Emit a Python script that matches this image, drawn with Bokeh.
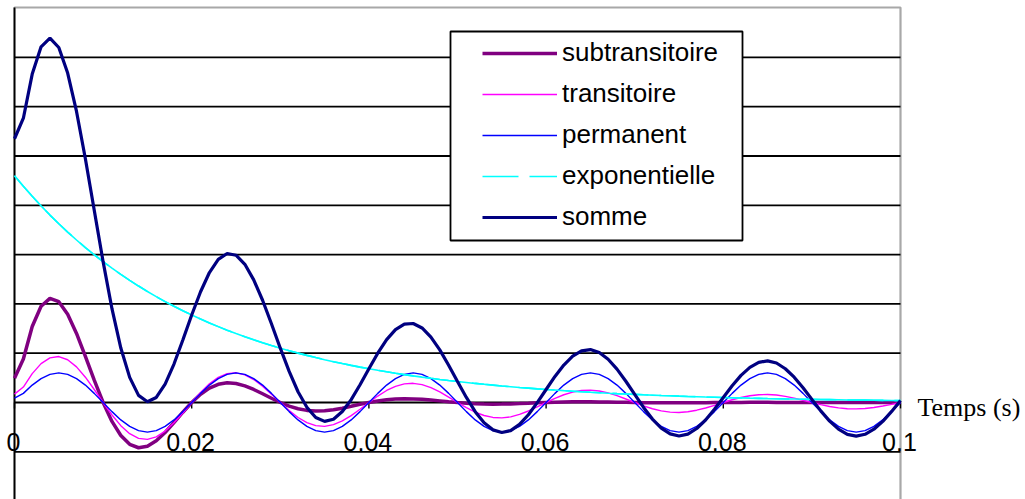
from bokeh.plotting import figure
from bokeh.models import (Range1d, Legend, LegendItem, LabelSet, Label,
                          ColumnDataSource, BoxAnnotation)
from bokeh.core.properties import value
from bokeh.embed import file_html
from bokeh.resources import INLINE

# ---------------- data ----------------
t_ms = list(range(101))
t = [k / 1000 for k in t_ms]   # time axis, 1 ms sampling

sub = [0.49, 0.881, 1.542, 1.953, 2.113, 2.044, 1.788, 1.400, 0.936, 0.453,
       0.0, -0.383, -0.670, -0.849, -0.918, -0.888, -0.777, -0.608, -0.407, -0.197,
       0.0, 0.167, 0.291, 0.369, 0.399, 0.386, 0.338, 0.264, 0.177, 0.086,
       0.0, -0.072, -0.127, -0.160, -0.173, -0.168, -0.147, -0.115, -0.077, -0.037,
       0.0, 0.031, 0.055, 0.070, 0.075, 0.073, 0.064, 0.050, 0.033, 0.016,
       0.0, -0.014, -0.024, -0.030, -0.033, -0.032, -0.028, -0.022, -0.015, -0.007,
       0.0, 0.006, 0.010, 0.013, 0.014, 0.014, 0.012, 0.009, 0.006, 0.003,
       0.0, -0.003, -0.005, -0.006, -0.006, -0.006, -0.005, -0.004, -0.003, -0.001,
       0.0, 0.001, 0.002, 0.003, 0.003, 0.003, 0.002, 0.002, 0.001, 0.001,
       0.0, -0.001, -0.001, -0.001, -0.001, -0.001, -0.001, -0.001, -0.001, 0.0,
       0.0]

trans = [0.17, 0.314, 0.585, 0.788, 0.906, 0.932, 0.867, 0.722, 0.513, 0.264,
         0.0, -0.253, -0.470, -0.633, -0.728, -0.749, -0.697, -0.580, -0.412, -0.212,
         0.0, 0.203, 0.378, 0.509, 0.585, 0.602, 0.560, 0.466, 0.331, 0.170,
         0.0, -0.163, -0.304, -0.409, -0.470, -0.484, -0.450, -0.374, -0.266, -0.137,
         0.0, 0.131, 0.244, 0.328, 0.378, 0.389, 0.362, 0.301, 0.214, 0.110,
         0.0, -0.105, -0.196, -0.264, -0.303, -0.312, -0.291, -0.242, -0.172, -0.088,
         0.0, 0.085, 0.157, 0.212, 0.244, 0.251, 0.233, 0.194, 0.138, 0.071,
         0.0, -0.068, -0.127, -0.170, -0.196, -0.202, -0.188, -0.156, -0.111, -0.057,
         0.0, 0.055, 0.102, 0.137, 0.157, 0.162, 0.151, 0.125, 0.089, 0.046,
         0.0, -0.044, -0.082, -0.110, -0.127, -0.130, -0.121, -0.101, -0.072, -0.037,
         0.0]

perm = [0.09, 0.185, 0.353, 0.485, 0.571, 0.600, 0.571, 0.485, 0.353, 0.185,
        0.0, -0.185, -0.353, -0.485, -0.571, -0.600, -0.571, -0.485, -0.353, -0.185,
        0.0, 0.185, 0.353, 0.485, 0.571, 0.600, 0.571, 0.485, 0.353, 0.185,
        0.0, -0.185, -0.353, -0.485, -0.571, -0.600, -0.571, -0.485, -0.353, -0.185,
        0.0, 0.185, 0.353, 0.485, 0.571, 0.600, 0.571, 0.485, 0.353, 0.185,
        0.0, -0.185, -0.353, -0.485, -0.571, -0.600, -0.571, -0.485, -0.353, -0.185,
        0.0, 0.185, 0.353, 0.485, 0.571, 0.600, 0.571, 0.485, 0.353, 0.185,
        0.0, -0.185, -0.353, -0.485, -0.571, -0.600, -0.571, -0.485, -0.353, -0.185,
        0.0, 0.185, 0.353, 0.485, 0.571, 0.600, 0.571, 0.485, 0.353, 0.185,
        0.0, -0.185, -0.353, -0.485, -0.571, -0.600, -0.571, -0.485, -0.353, -0.185,
        0.0]

expo = [4.600, 4.386, 4.182, 3.988, 3.802, 3.625, 3.457, 3.296, 3.143, 2.997,
        2.857, 2.724, 2.598, 2.477, 2.362, 2.252, 2.147, 2.047, 1.952, 1.861,
        1.775, 1.692, 1.614, 1.539, 1.467, 1.399, 1.334, 1.272, 1.213, 1.156,
        1.102, 1.051, 1.002, 0.956, 0.911, 0.869, 0.828, 0.790, 0.753, 0.718,
        0.685, 0.653, 0.623, 0.594, 0.566, 0.540, 0.515, 0.491, 0.468, 0.446,
        0.425, 0.406, 0.387, 0.369, 0.352, 0.335, 0.320, 0.305, 0.291, 0.277,
        0.264, 0.252, 0.240, 0.229, 0.218, 0.208, 0.199, 0.189, 0.180, 0.172,
        0.164, 0.156, 0.149, 0.142, 0.136, 0.129, 0.123, 0.118, 0.112, 0.107,
        0.102, 0.097, 0.093, 0.088, 0.084, 0.080, 0.077, 0.073, 0.070, 0.066,
        0.063, 0.060, 0.058, 0.055, 0.052, 0.050, 0.048, 0.045, 0.043, 0.041,
        0.039]

somme = [5.350, 5.766, 6.662, 7.214, 7.392, 7.201, 6.683, 5.903, 4.945, 3.899,
         2.857, 1.903, 1.105, 0.510, 0.145, 0.015, 0.102, 0.374, 0.780, 1.267,
         1.775, 2.247, 2.636, 2.902, 3.022, 2.987, 2.803, 2.487, 2.074, 1.597,
         1.102, 0.631, 0.218, -0.098, -0.303, -0.383, -0.340, -0.184, 0.057, 0.359,
         0.685, 1.000, 1.275, 1.477, 1.590, 1.602, 1.512, 1.327, 1.068, 0.757,
         0.425, 0.102, -0.186, -0.410, -0.555, -0.609, -0.570, -0.444, -0.249, -0.003,
         0.264, 0.528, 0.760, 0.939, 1.047, 1.073, 1.015, 0.877, 0.677, 0.431,
         0.164, -0.100, -0.336, -0.519, -0.637, -0.679, -0.641, -0.527, -0.355, -0.136,
         0.102, 0.338, 0.550, 0.713, 0.815, 0.845, 0.801, 0.685, 0.513, 0.298,
         0.063, -0.170, -0.378, -0.541, -0.647, -0.681, -0.645, -0.542, -0.383, -0.181,
         0.039]

tick_values = [0, 0.02, 0.04, 0.06, 0.08, 0.1]
tick_labels = ["0", "0.02", "0.04", "0.06", "0.08", "0.1"]
grid_levels = [-1, 0, 1, 2, 3, 4, 5, 6, 7]
series_names = ["subtransitoire", "transitoire", "permanent", "exponentielle", "somme"]
axis_title = "Temps (s)"

# ---------------- layout constants ----------------
W, H = 1025, 499
PX_PER_S = 8860.0       # horizontal scale
PX_PER_UNIT = 49.3      # vertical scale
X0_PX, Y0_PX = 14, 402  # screen position of the origin
x_lo, x_hi = -X0_PX / PX_PER_S, (W - X0_PX) / PX_PER_S
y_lo, y_hi = -(H - Y0_PX) / PX_PER_UNIT, Y0_PX / PX_PER_UNIT
y_top = (Y0_PX - 7) / PX_PER_UNIT   # top border of the plot area

p = figure(width=W, height=H,
           x_range=Range1d(x_lo, x_hi), y_range=Range1d(y_lo, y_hi),
           x_axis_type=None, y_axis_type=None, title=None,
           toolbar_location=None, output_backend="svg",
           min_border_left=0, min_border_right=0,
           min_border_top=0, min_border_bottom=0)
p.outline_line_color = None
p.background_fill_color = "white"
p.border_fill_color = "white"

x_first, x_last = tick_values[0], tick_values[-1]

# horizontal grid lines limited to the plot area
p.segment(x0=[x_first] * len(grid_levels), y0=grid_levels,
          x1=[x_last] * len(grid_levels), y1=grid_levels,
          line_color="black", line_width=1.8)

# plot-area border (grey, top and right)
p.add_layout(BoxAnnotation(left=x_first, right=x_last, top=y_top, bottom=y_lo - 0.1,
                           fill_alpha=0, line_color="#a8a8a8", line_alpha=1.0,
                           line_width=2.2, level="underlay"))

# vertical axis line
p.segment(x0=[x_first], y0=[y_lo - 0.1], x1=[x_first], y1=[y_top],
          line_color="black", line_width=1.8)

# tick marks on the zero line
tick_len = 0.12
p.segment(x0=tick_values, y0=[0] * len(tick_values),
          x1=tick_values, y1=[-tick_len] * len(tick_values),
          line_color="black", line_width=1.4)

r_sub = p.line(t, sub, line_color="#800080", line_width=3.5)
r_tr = p.line(t, trans, line_color="#ff00ff", line_width=1.4)
r_pe = p.line(t, perm, line_color="#0000ff", line_width=1.4)
r_ex_leg = p.line(t, expo, line_color="#00ffff", line_width=1.6, line_dash="36 11")
r_ex = p.line(t, expo, line_color="#00ffff", line_width=1.6)
r_so = p.line(t, somme, line_color="#000080", line_width=3.2)

# tick labels on the zero line
tick_src = ColumnDataSource(dict(x=tick_values, y=[0] * len(tick_values), text=tick_labels))
p.add_layout(LabelSet(x="x", y="y", text="text", source=tick_src,
                      text_align="center", text_baseline="alphabetic",
                      x_offset=-1, y_offset=-48,
                      text_font=value("Liberation Sans"), text_font_size="25px",
                      text_color="black"))

p.add_layout(Label(x=x_last, y=0, x_offset=17, y_offset=-5, text=axis_title,
                   text_font="Liberation Serif", text_font_size="26px",
                   text_baseline="middle", text_align="left", text_color="black"))

# legend frame
p.add_layout(BoxAnnotation(left=450, right=742, top=31, bottom=240,
                           left_units="canvas", right_units="canvas",
                           top_units="canvas", bottom_units="canvas",
                           fill_color="white", fill_alpha=1.0,
                           line_color="black", line_alpha=1.0, line_width=1.8))

legend = Legend(items=[LegendItem(label=n, renderers=[r]) for n, r in
                       zip(series_names, [r_sub, r_tr, r_pe, r_ex_leg, r_so])],
                location=(474, 259), orientation="vertical",
                padding=8, margin=0, spacing=10,
                glyph_width=75, glyph_height=30, label_height=30, label_standoff=5,
                label_text_font="Liberation Sans", label_text_font_size="26px",
                label_text_color="black",
                background_fill_alpha=0, border_line_alpha=0)
p.add_layout(legend)

open("out.html", "w").write(file_html(p, INLINE))
